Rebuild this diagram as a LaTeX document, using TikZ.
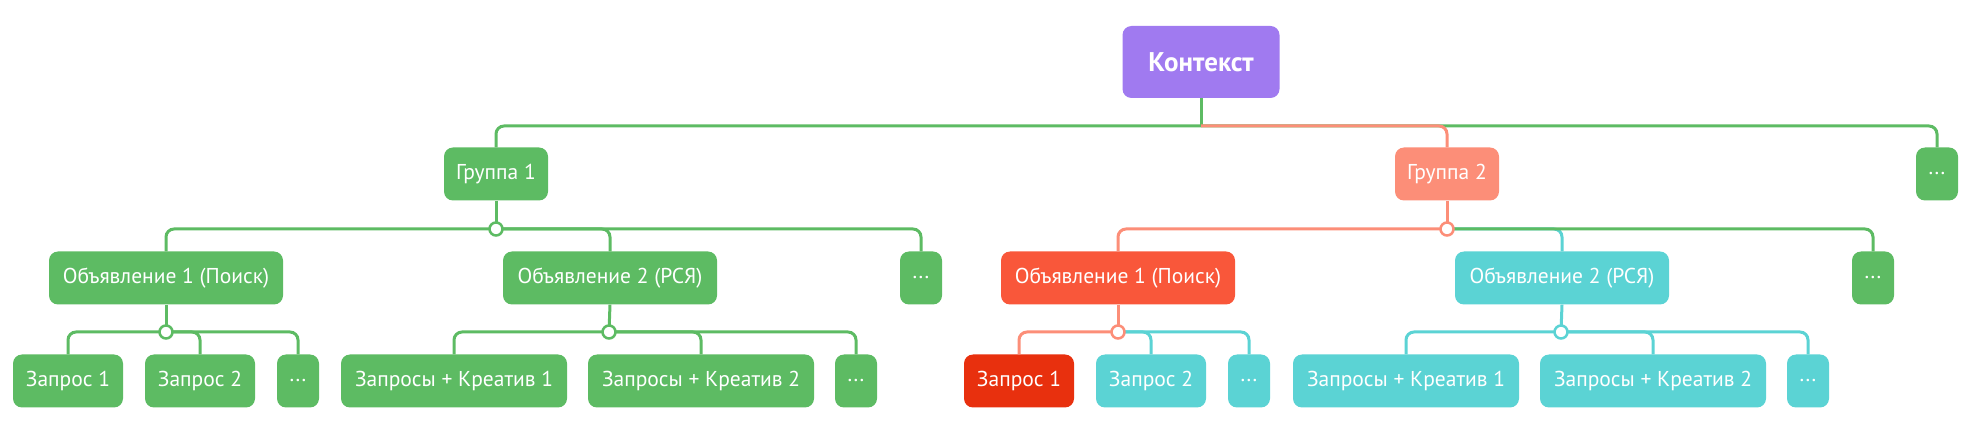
\documentclass[tikz,border=0pt]{standalone}
\usepackage{fontspec}
\setmainfont{PT Sans}
\definecolor{cg}{HTML}{5DBB63}
\definecolor{cp}{HTML}{A07AF0}
\definecolor{cs}{HTML}{FC8E78}
\definecolor{co}{HTML}{F9573A}
\definecolor{cr}{HTML}{E8300E}
\definecolor{cc}{HTML}{5BD3D4}
\begin{document}
\begin{tikzpicture}[x=1pt,y=-1pt,
  box/.style={rounded corners=9pt,text=white,minimum height=53pt,inner sep=0pt,font=\fontsize{21.5}{24}\selectfont},
  ln/.style={line width=3pt,rounded corners=8pt},
  jn/.style={circle,draw,fill=white,line width=2.5pt,minimum size=13pt,inner sep=0pt}]
\useasboundingbox (0,0) rectangle (1979,427);
% nodes
\node[box,fill=cp,minimum width=157pt,minimum height=72pt,font=\fontsize{27}{30}\selectfont\bfseries] (ctx) at (1201,62) {Контекст};
\node[box,fill=cg,minimum width=104pt] (g1) at (496,174) {Группа 1};
\node[box,fill=cs,minimum width=104pt] (g2) at (1447,174) {Группа 2};
\node[box,fill=cg,minimum width=42pt] (gd) at (1937,174) {...};
\node[box,fill=cg,minimum width=234pt] (a1) at (166,278) {Объявление 1 (Поиск)};
\node[box,fill=cg,minimum width=214pt] (a2) at (610,278) {Объявление 2 (РСЯ)};
\node[box,fill=cg,minimum width=42pt] (ad) at (921,278) {...};
\node[box,fill=co,minimum width=234pt] (b1) at (1118,278) {Объявление 1 (Поиск)};
\node[box,fill=cc,minimum width=214pt] (b2) at (1562,278) {Объявление 2 (РСЯ)};
\node[box,fill=cg,minimum width=42pt] (bd) at (1873,278) {...};
\node[box,fill=cg,minimum width=110pt] (q1) at (68,381) {Запрос 1};
\node[box,fill=cg,minimum width=110pt] (q2) at (200,381) {Запрос 2};
\node[box,fill=cg,minimum width=42pt] (qd) at (298,381) {...};
\node[box,fill=cg,minimum width=226pt] (k1) at (454,381) {Запросы + Креатив 1};
\node[box,fill=cg,minimum width=226pt] (k2) at (701,381) {Запросы + Креатив 2};
\node[box,fill=cg,minimum width=42pt] (kd) at (856,381) {...};
\node[box,fill=cr,minimum width=110pt] (r1) at (1019,381) {Запрос 1};
\node[box,fill=cc,minimum width=110pt] (r2) at (1151,381) {Запрос 2};
\node[box,fill=cc,minimum width=42pt] (rd) at (1249,381) {...};
\node[box,fill=cc,minimum width=226pt] (m1) at (1406,381) {Запросы + Креатив 1};
\node[box,fill=cc,minimum width=226pt] (m2) at (1653,381) {Запросы + Креатив 2};
\node[box,fill=cc,minimum width=42pt] (md) at (1808,381) {...};
% junctions
\coordinate (t) at (1201,126);
\coordinate (j1) at (496,229);
\coordinate (j2) at (1447,229);
\coordinate (ja) at (166,332);
\coordinate (jb) at (609,332);
\coordinate (jc) at (1118,332);
\coordinate (jd) at (1561,332);
% top level
\draw[ln,cg] (ctx.south) -- (t);
\draw[ln,cg] (t) -| (g1.north);
\draw[ln,cg] (t) -| (gd.north);
\draw[ln,cs] (t) -| (g2.north);
% group 1
\draw[ln,cg] (g1.south) -- (j1);
\draw[ln,cg] (j1) -| (a1.north);
\draw[ln,cg] (j1) -| (a2.north);
\draw[ln,cg] (j1) -| (ad.north);
% group 2
\draw[ln,cs] (g2.south) -- (j2);
\draw[ln,cs] (j2) -| (b1.north);
\draw[ln,cc] (j2) -| (b2.north);
\draw[ln,cg] (j2) -| (bd.north);
% level 3
\draw[ln,cg] (a1.south) -- (ja);
\draw[ln,cg] (ja) -| (q1.north);
\draw[ln,cg] (ja) -| (q2.north);
\draw[ln,cg] (ja) -| (qd.north);
\draw[ln,cg] (a2.south) -- (jb);
\draw[ln,cg] (jb) -| (k1.north);
\draw[ln,cg] (jb) -| (k2.north);
\draw[ln,cg] (jb) -| (kd.north);
\draw[ln,cs] (b1.south) -- (jc);
\draw[ln,cc] (jc) -| (r2.north);
\draw[ln,cc] (jc) -| (rd.north);
\draw[ln,cs] (jc) -| (r1.north);
\draw[ln,cc] (b2.south) -- (jd);
\draw[ln,cc] (jd) -| (m1.north);
\draw[ln,cc] (jd) -| (m2.north);
\draw[ln,cc] (jd) -| (md.north);
% junction circles
\node[jn,draw=cg] (c1) at (j1) {};
\node[jn,draw=cs] (c2) at (j2) {};
\node[jn,draw=cg] (ca) at (ja) {};
\node[jn,draw=cg] (cb) at (jb) {};
\node[jn,draw=cs] (cc1) at (jc) {};
\node[jn,draw=cc] (cd) at (jd) {};
\end{tikzpicture}
\end{document}
